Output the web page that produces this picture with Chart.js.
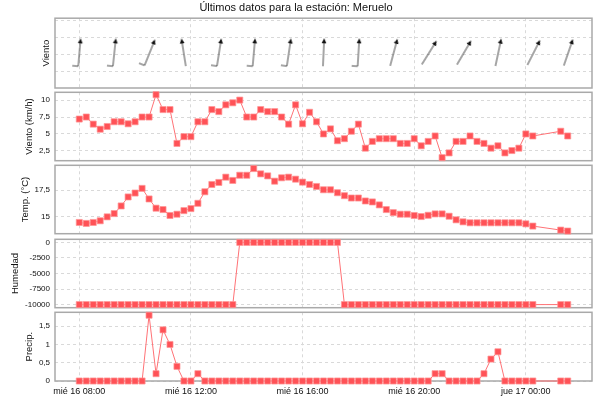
<!DOCTYPE html>
<html lang="es">
<head>
<meta charset="utf-8">
<title>Últimos datos - Meruelo</title>
<script src="https://cdn.jsdelivr.net/npm/chart.js"></script>
<style>
    html, body { margin: 0; padding: 0; background: #fff; }
    #wrap { position: relative; width: 600px; height: 400px; overflow: hidden; }
    .panel { position: absolute; left: 0; width: 600px; }
</style>
</head>
<body>
<div id="wrap">
    <div class="panel" style="top:0;height:93px"><canvas id="c-dir"></canvas></div>
    <div class="panel" style="top:87px;height:79px"><canvas id="c-vel"></canvas></div>
    <div class="panel" style="top:160px;height:79px"><canvas id="c-temp"></canvas></div>
    <div class="panel" style="top:234px;height:79px"><canvas id="c-hum"></canvas></div>
    <div class="panel" style="top:307px;height:93px"><canvas id="c-prec"></canvas></div>
</div>
<script>
// Datos (lecturas cada 15 min, mié 16 -> jue 17)
const horas = [
    '08:00', '08:15', '08:30', '08:45', '09:00', '09:15', '09:30', '09:45',
    '10:00', '10:15', '10:30', '10:45', '11:00', '11:15', '11:30', '11:45',
    '12:00', '12:15', '12:30', '12:45', '13:00', '13:15', '13:30', '13:45',
    '14:00', '14:15', '14:30', '14:45', '15:00', '15:15', '15:30', '15:45',
    '16:00', '16:15', '16:30', '16:45', '17:00', '17:15', '17:30', '17:45',
    '18:00', '18:15', '18:30', '18:45', '19:00', '19:15', '19:30', '19:45',
    '20:00', '20:15', '20:30', '20:45', '21:00', '21:15', '21:30', '21:45',
    '22:00', '22:15', '22:30', '22:45', '23:00', '23:15', '23:30', '23:45',
    '00:00', '00:15', '01:15', '01:30'
];
const velViento = [
    7.2, 7.5, 6.45, 5.7, 6.1, 6.8, 6.8, 6.5,
    6.8, 7.5, 7.5, 10.8, 8.6, 8.6, 3.6, 4.6,
    4.6, 6.8, 6.8, 8.6, 8.3, 9.3, 9.6, 10.0,
    7.5, 7.5, 8.6, 8.3, 8.3, 7.5, 6.45, 9.3,
    6.5, 8.2, 6.8, 5.0, 5.75, 4.0, 4.3, 5.4,
    6.45, 2.9, 3.9, 4.3, 4.3, 4.3, 3.6, 3.6,
    4.3, 3.25, 3.9, 4.7, 1.5, 2.2, 3.9, 3.9,
    4.7, 3.9, 3.6, 2.9, 3.25, 2.2, 2.55, 2.9,
    5.0, 4.7, 5.4, 4.7
];
const temperatura = [
    14.44, 14.35, 14.44, 14.6, 14.97, 15.28, 16.0, 16.85,
    17.22, 17.66, 16.66, 15.79, 15.66, 15.1, 15.22, 15.56,
    15.75, 16.25, 17.34, 18.03, 18.22, 18.72, 18.41, 18.9,
    18.9, 19.53, 19.03, 18.84, 18.34, 18.66, 18.72, 18.53,
    18.25, 18.03, 17.84, 17.53, 17.53, 17.25, 16.97, 16.75,
    16.75, 16.47, 16.38, 16.1, 15.66, 15.37, 15.22, 15.22,
    15.1, 15.0, 15.12, 15.25, 15.25, 15.03, 14.69, 14.5,
    14.41, 14.41, 14.41, 14.41, 14.41, 14.41, 14.41, 14.41,
    14.31, 14.1, 13.72, 13.63
];
const humedad = [
    -10000, -10000, -10000, -10000, -10000, -10000, -10000, -10000,
    -10000, -10000, -10000, -10000, -10000, -10000, -10000, -10000,
    -10000, -10000, -10000, -10000, -10000, -10000, -10000, 0,
    0, 0, 0, 0, 0, 0, 0, 0,
    0, 0, 0, 0, 0, 0, -10000, -10000,
    -10000, -10000, -10000, -10000, -10000, -10000, -10000, -10000,
    -10000, -10000, -10000, -10000, -10000, -10000, -10000, -10000,
    -10000, -10000, -10000, -10000, -10000, -10000, -10000, -10000,
    -10000, -10000, -10000, -10000
];
const precipitacion = [
    0, 0, 0, 0, 0, 0, 0, 0,
    0, 0, 1.8, 0.2, 1.4, 1.0, 0.4, 0,
    0, 0.2, 0, 0, 0, 0, 0, 0,
    0, 0, 0, 0, 0, 0, 0, 0,
    0, 0, 0, 0, 0, 0, 0, 0,
    0, 0, 0, 0, 0, 0, 0, 0,
    0, 0, 0, 0.2, 0.2, 0, 0, 0,
    0, 0, 0.2, 0.6, 0.8, 0, 0, 0,
    0, 0, 0, 0
];

// Flechas de dirección del viento (grados, sentido horario desde el norte)
const flechasHoras = ['08:00', '09:15', '10:30', '11:45', '13:00', '14:15', '15:30', '16:45',
    '18:00', '19:15', '20:30', '21:45', '23:00', '00:15', '01:30'];
const flechasDir = [5, 6, 22, -9, 9, 5, 8.5, 2.6, 3.5, 15, 32, 30.5, 12, 27, 19];

// Ejes
const marcasX = ['08:00', '12:00', '16:00', '20:00', '00:00'];
const etiquetasX = ['mié 16 08:00', 'mié 16 12:00', 'mié 16 16:00', 'mié 16 20:00', 'jue 17 00:00'];
const marcasDir = [-1, 0, 1, 2];
const marcasVel = [2.5, 5, 7.5, 10];
const marcasTemp = [15, 17.5];
const marcasHum = [-10000, -7500, -5000, -2500, 0];
const marcasPrec = [0, 0.5, 1, 1.5];

Chart.defaults.font.family = "'Liberation Sans', Arial, sans-serif";
Chart.defaults.color = '#222';

const ROJO = '#ff5257';

// horas desde mié 16 08:00
const aHoras = (h) => {
    const [hh, mm] = h.split(':').map(Number);
    return (hh < 8 ? hh + 24 : hh) - 8 + mm / 60;
};

// recuadro gris de cada panel
const marco = {
    id: 'marco',
    beforeDatasetsDraw(chart) {
        const a = chart.chartArea;
        const ctx = chart.ctx;
        ctx.save();
        ctx.strokeStyle = '#a9a9a9';
        ctx.lineWidth = 1.5;
        ctx.strokeRect(a.left, a.top, a.right - a.left, a.bottom - a.top);
        ctx.restore();
    }
};

const ejeX = (conEtiquetas) => ({
    type: 'linear',
    min: -0.87,
    max: 18.37,
    grid: { color: '#d9d9d9', drawTicks: false },
    border: { display: false, dash: [3, 3] },
    afterBuildTicks: s => { s.ticks = marcasX.map(h => ({ value: aHoras(h) })); },
    afterFit: s => { s.height = conEtiquetas ? 19 : 0; },
    ticks: {
        display: conEtiquetas, autoSkip: false, maxRotation: 0, padding: 5,
        font: { size: 9 }, color: '#111',
        callback: (v, i) => etiquetasX[i]
    }
});

const ejeY = (titulo, desplaz, min, max, marcas, mostrar) => ({
    min: min,
    max: max,
    grid: { color: '#d9d9d9', drawTicks: false },
    border: { display: false, dash: [3, 3] },
    afterBuildTicks: s => { s.ticks = marcas.map(v => ({ value: v })); },
    afterFit: s => {
        s.width = 55;
        // que las etiquetas no encojan el panel
        s.paddingTop = 0;
        s.paddingBottom = 0;
    },
    ticks: {
        display: mostrar, padding: 5, font: { size: 8 }, color: '#111',
        callback: v => String(v).replace('.', ',')
    },
    title: {
        display: true, text: titulo, color: '#111',
        font: { size: 9.5 }, padding: { top: desplaz, bottom: 0 }
    }
});

const serie = (datos) => ({
    data: horas.map((h, i) => ({ x: aHoras(h), y: datos[i] })),
    borderColor: '#ff7276',
    borderWidth: 1,
    pointStyle: 'rect',
    pointRadius: 4.3,
    pointBackgroundColor: ROJO,
    pointBorderColor: 'rgba(255,150,150,0.7)',
    pointBorderWidth: 1,
    tension: 0,
    clip: false
});

const baseOpts = (padTop, padBottom) => ({
    responsive: true,
    maintainAspectRatio: false,
    animation: false,
    layout: { padding: { left: 0, right: 8, top: padTop, bottom: padBottom } },
    plugins: { legend: { display: false }, tooltip: { enabled: false } }
});

// dibujo de una flecha (con o sin barba) para usarla como pointStyle
const imgFlecha = (barba) => {
    const c = document.createElement('canvas');
    c.width = 40;
    c.height = 40;
    const g = c.getContext('2d');
    g.strokeStyle = '#4d4d4d';
    g.lineWidth = 1;
    g.beginPath();
    g.moveTo(20, 32);
    g.lineTo(20, 7);
    g.stroke();
    if (barba) {
        g.beginPath();
        g.moveTo(20, 32);
        g.lineTo(14, 32);
        g.stroke();
    }
    g.fillStyle = '#111';
    g.beginPath();
    g.moveTo(20, 4);
    g.lineTo(17.6, 9);
    g.lineTo(22.4, 9);
    g.closePath();
    g.fill();
    return c;
};
const flechaBarba = imgFlecha(true);
const flechaSimple = imgFlecha(false);

// Panel 1: dirección
const optsDir = baseOpts(0, 5);
optsDir.plugins.title = {
    display: true, text: 'Últimos datos para la estación: Meruelo',
    color: '#111', font: { size: 11, weight: 'normal' }, padding: { top: 1, bottom: 4 }
};
optsDir.scales = { x: ejeX(false), y: ejeY('Viento', 41, -2, 2.14, marcasDir, false) };
new Chart(document.getElementById('c-dir'), {
    type: 'scatter',
    data: {
        datasets: [{
            data: flechasHoras.map(h => ({ x: aHoras(h), y: 0 })),
            pointRadius: 3,
            pointStyle: c => (velViento[horas.indexOf(flechasHoras[c.dataIndex])] >= 6 ? flechaBarba : flechaSimple),
            pointRotation: c => flechasDir[c.dataIndex],
            clip: false
        }]
    },
    options: optsDir,
    plugins: [marco]
});

// Panel 2: velocidad
const optsVel = baseOpts(5, 5);
optsVel.scales = { x: ejeX(false), y: ejeY('Viento (km/h)', 23.3, 1.05, 11.15, marcasVel, true) };
new Chart(document.getElementById('c-vel'), {
    type: 'line', data: { datasets: [serie(velViento)] }, options: optsVel, plugins: [marco]
});

// Panel 3: temperatura
const optsTemp = baseOpts(5, 5);
optsTemp.scales = { x: ejeX(false), y: ejeY('Temp. (°C)', 19.3, 13.38, 19.84, marcasTemp, true) };
new Chart(document.getElementById('c-temp'), {
    type: 'line', data: { datasets: [serie(temperatura)] }, options: optsTemp, plugins: [marco]
});

// Panel 4: humedad
const optsHum = baseOpts(5, 5);
optsHum.scales = { x: ejeX(false), y: ejeY('Humedad', 10, -10500, 500, marcasHum, true) };
new Chart(document.getElementById('c-hum'), {
    type: 'line', data: { datasets: [serie(humedad)] }, options: optsHum, plugins: [marco]
});

// Panel 5: precipitación
const optsPrec = baseOpts(5, 0);
optsPrec.scales = { x: ejeX(true), y: ejeY('Precip.', 23.6, 0, 1.88, marcasPrec, true) };
new Chart(document.getElementById('c-prec'), {
    type: 'line', data: { datasets: [serie(precipitacion)] }, options: optsPrec, plugins: [marco]
});
</script>
</body>
</html>
